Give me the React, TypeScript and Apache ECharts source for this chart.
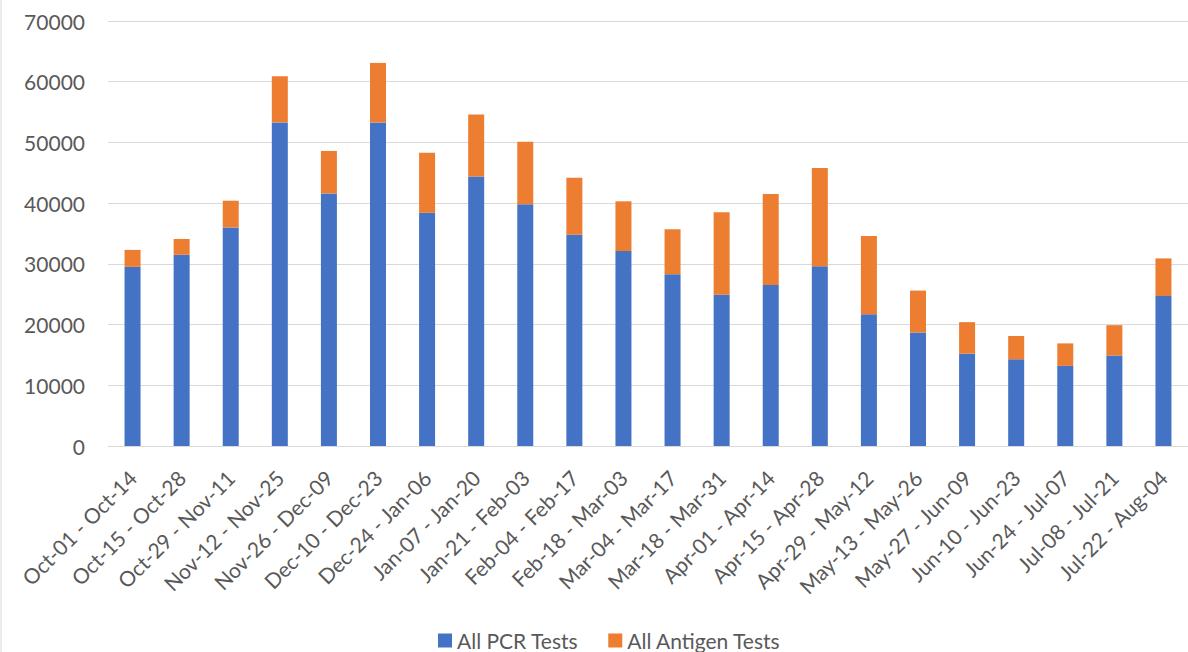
import React, { useEffect, useRef } from "react";
import * as echarts from "echarts";

const categories = [
  "Oct-01 - Oct-14", "Oct-15 - Oct-28", "Oct-29 - Nov-11", "Nov-12 - Nov-25",
  "Nov-26 - Dec-09", "Dec-10 - Dec-23", "Dec-24 - Jan-06", "Jan-07 - Jan-20",
  "Jan-21 - Feb-03", "Feb-04 - Feb-17", "Feb-18 - Mar-03", "Mar-04 - Mar-17",
  "Mar-18 - Mar-31", "Apr-01 - Apr-14", "Apr-15 - Apr-28", "Apr-29 - May-12",
  "May-13 - May-26", "May-27 - Jun-09", "Jun-10 - Jun-23", "Jun-24 - Jul-07",
  "Jul-08 - Jul-21", "Jul-22 - Aug-04",
];

const pcrTests = [
  29500, 31500, 36000, 53300, 41600, 53300, 38400, 44400, 39800, 34800, 32100,
  28300, 24900, 26500, 29600, 21700, 18700, 15200, 14300, 13200, 14900, 24700,
];

const antigenTests = [
  2800, 2600, 4400, 7600, 7000, 9800, 9900, 10200, 10300, 9400, 8200,
  7400, 13600, 15000, 16200, 12900, 6900, 5200, 3800, 3700, 5000, 6200,
];

const yTicks = [0, 10000, 20000, 30000, 40000, 50000, 60000, 70000];

const FONT = "Lato";
const TEXT = "#595959";
const GRID = "#d9d9d9";

export default function App() {
  const ref = useRef<HTMLDivElement>(null);
  useEffect(() => {
    if (!ref.current) return;
    const chart = echarts.init(ref.current, undefined, { renderer: "svg" });
    chart.setOption({
      animation: false,
      backgroundColor: "#ffffff",
      textStyle: { fontFamily: FONT },
      grid: { left: 108, top: 21, width: 1084, height: 425, containLabel: false },
      legend: {
        left: 438,
        top: 630,
        padding: 0,
        itemWidth: 14,
        itemHeight: 14,
        itemGap: 30,
        icon: "rect",
        textStyle: { fontFamily: FONT, fontSize: 21, color: TEXT, lineHeight: 21 },
        data: ["All PCR Tests", "All Antigen Tests"],
      },
      xAxis: {
        type: "category",
        data: categories,
        axisTick: { show: false },
        axisLine: { lineStyle: { color: GRID, width: 1 } },
        axisLabel: {
          rotate: 45,
          interval: 0,
          margin: 28,
          fontFamily: FONT,
          fontSize: 21,
          color: TEXT,
        },
      },
      yAxis: {
        type: "value",
        min: yTicks[0],
        max: yTicks[yTicks.length - 1],
        interval: yTicks[1] - yTicks[0],
        axisLine: { show: false },
        axisTick: { show: false },
        splitLine: { lineStyle: { color: GRID, width: 1 } },
        axisLabel: {
          margin: 23,
          fontFamily: FONT,
          fontSize: 21,
          color: TEXT,
          formatter: (v: number) => String(v),
        },
      },
      graphic: [
        {
          type: "line",
          shape: { x1: 1, y1: 0, x2: 1, y2: 652 },
          style: { stroke: GRID, lineWidth: 1 },
          silent: true,
        },
      ],
      series: [
        {
          name: "All PCR Tests",
          type: "bar",
          stack: "total",
          barWidth: 16,
          itemStyle: { color: "#4472C4" },
          data: pcrTests,
        },
        {
          name: "All Antigen Tests",
          type: "bar",
          stack: "total",
          barWidth: 16,
          itemStyle: { color: "#ED7D31" },
          data: antigenTests,
        },
      ],
    });
    return () => chart.dispose();
  }, []);
  return (
    <div
      ref={ref}
      style={{ position: "absolute", left: 0, top: 0, width: 1188, height: 652, overflow: "hidden" }}
    />
  );
}
